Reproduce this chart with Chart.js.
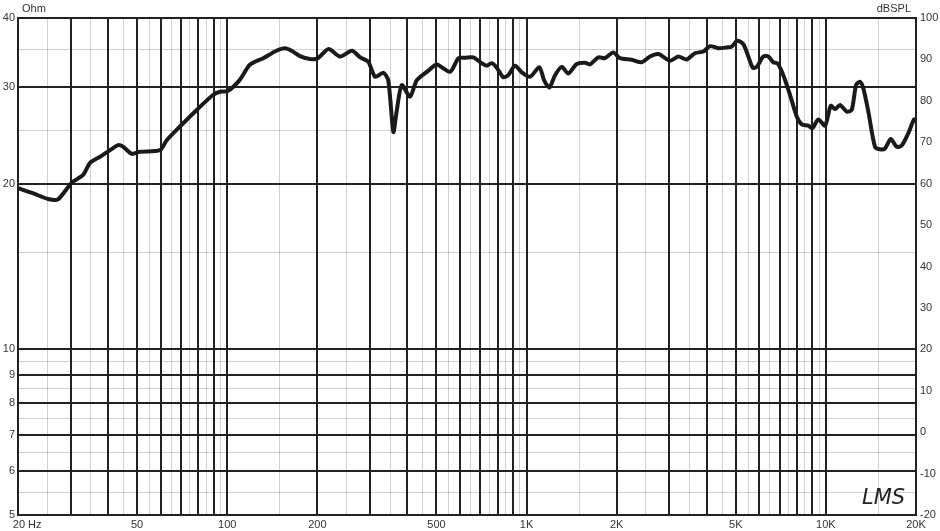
<!DOCTYPE html>
<html lang="en">
<head>
  <meta charset="UTF-8">
  <title>Frequency response</title>
  <script src="https://cdn.jsdelivr.net/npm/chart.js"></script>
  <style>
    html, body { margin: 0; padding: 0; background: #fff; }
    canvas { display: block; }
  </style>
</head>
<body>
  <canvas id="resp" width="940" height="531"></canvas>
  <script>
    // measured SPL curve (Hz / dB)
    const freqHz = [20, 22.4, 25.2, 27.2, 30.2, 33, 34.8, 37.6, 40.6, 43.2, 44.9, 48, 51.1, 59.6, 62.8, 69.5, 79.1, 89.6, 94.6, 100.6,
      110, 119, 132, 146, 156, 164, 175, 189, 201, 218, 238, 261, 278, 296, 312, 332, 345, 359, 368, 383,
      408, 430, 470, 501, 555, 592, 623, 664, 708, 736, 765, 795, 836, 869, 915, 963, 1027, 1103, 1144, 1191,
      1245, 1310, 1379, 1471, 1568, 1629, 1737, 1828, 1949, 2052, 2246, 2424, 2585, 2756, 3016, 3214, 3428, 3654, 3896, 4100,
      4373, 4665, 4847, 5059, 5298, 5506, 5696, 5875, 6180, 6422, 6674, 6883, 7208, 7590, 7992, 8305, 8736, 9010, 9436, 9934,
      10380, 10730, 11150, 11740, 12200, 12610, 13000, 13340, 13860, 14590, 15170, 15760, 16470, 17240, 17920, 18860, 19700, 20000];
    const splDb = [58.9, 57.7, 56.3, 56.2, 60.2, 62.1, 65.0, 66.5, 68.1, 69.3, 68.9, 67.2, 67.7, 68.1, 70.5, 73.8, 77.8, 81.4, 82.2, 82.4,
      85.0, 88.7, 90.3, 92.1, 92.7, 92.1, 90.8, 90.1, 90.3, 92.5, 90.7, 92.1, 90.5, 89.4, 85.8, 86.8, 85.0, 72.5, 77.4, 83.8,
      81.0, 85.0, 87.3, 88.8, 87.0, 90.3, 90.4, 90.5, 89.1, 88.5, 89.1, 88.0, 85.7, 86.2, 88.5, 86.9, 85.8, 88.1, 85.0, 83.2,
      86.2, 88.2, 86.6, 88.9, 89.2, 88.8, 90.5, 90.3, 91.7, 90.3, 89.9, 89.3, 90.7, 91.3, 89.7, 90.7, 90.0, 91.5, 91.9, 93.2,
      92.7, 92.9, 93.1, 94.5, 93.7, 90.7, 88.0, 88.2, 90.7, 90.7, 89.3, 89.1, 86.2, 81.4, 76.2, 74.3, 74.0, 73.4, 75.5, 74.0,
      78.8, 78.0, 79.0, 77.4, 77.8, 83.8, 84.6, 83.0, 77.4, 68.9, 68.3, 68.5, 70.8, 68.9, 69.2, 72.2, 75.5, 75.0];

    // frequency grid
    const xMajor = [20, 30, 40, 50, 60, 70, 80, 90, 100, 200, 300, 400, 500, 600, 700, 800, 900, 1000,
      2000, 3000, 4000, 5000, 6000, 7000, 8000, 9000, 10000, 20000];
    const xMinor = [25, 35, 45, 55, 65, 75, 85, 95, 150, 250, 350, 450, 550, 650, 750, 850, 950,
      1500, 2500, 3500, 4500, 5500, 6500, 7500, 8500, 9500, 15000];
    const xLabelVals = [20, 50, 100, 200, 500, 1000, 2000, 5000, 10000, 20000];
    const xLabelText = ['      20 Hz', '50', '100', '200', '500', '1K', '2K', '5K', '10K', '20K'];

    // impedance grid (left, Ohm)
    const ohmMajor = [5, 6, 7, 8, 9, 10, 20, 30, 40];
    const ohmMinor = [5.5, 6.5, 7.5, 8.5, 9.5, 15, 25, 35];

    // SPL axis (right)
    const dbMin = -20, dbMax = 100, dbStep = 10;

    const DARK = '#222';
    const LIGHT = 'rgba(0,0,0,0.18)';
    const FONT = { family: '"Liberation Sans", Arial, sans-serif', size: 11 };
    const TXT = '#333';

    const near = (a, b) => Math.abs(a - b) < 1e-6 * Math.max(1, b);
    const isIn = (arr, v) => arr.some(a => near(v, a));
    const noPad = s => { s.paddingLeft = 0; s.paddingRight = 0; s.paddingTop = 0; s.paddingBottom = 0; };

    const cornerText = {
      id: 'cornerText',
      afterDraw(chart) {
        const c = chart.ctx;
        c.save();
        c.fillStyle = TXT;
        c.font = '11px "Liberation Sans", Arial, sans-serif';
        c.textBaseline = 'alphabetic';
        c.textAlign = 'left';
        c.fillText('Ohm', 22, 12);
        c.textAlign = 'right';
        c.fillText('dBSPL', 911, 12);
        c.fillStyle = '#222';
        c.font = 'italic 200 21px "DejaVu Sans", sans-serif';
        c.textAlign = 'left';
        c.fillText('LMS', 862, 504);
        c.restore();
      }
    };

    new Chart(document.getElementById('resp'), {
      type: 'line',
      data: {
        datasets: [{
          data: freqHz.map((f, i) => ({ x: f, y: splDb[i] })),
          xAxisID: 'x',
          yAxisID: 'y2',
          borderColor: '#1a1a1a',
          borderWidth: 4,
          pointRadius: 0,
          tension: 0.25,
          fill: false
        }]
      },
      options: {
        responsive: false,
        animation: false,
        layout: { padding: { top: 18, left: 0, right: 0, bottom: 0 } },
        plugins: { legend: { display: false }, tooltip: { enabled: false } },
        scales: {
          x: {
            type: 'logarithmic',
            position: 'bottom',
            min: 20,
            max: 20000,
            afterBuildTicks: s => { s.ticks = xMajor.concat(xMinor).sort((a, b) => a - b).map(v => ({ value: v })); },
            afterFit: s => { s.height = 16; noPad(s); },
            grid: {
              drawTicks: false,
              color: c => isIn(xMajor, c.tick.value) ? DARK : LIGHT,
              lineWidth: c => isIn(xMajor, c.tick.value) ? 2 : 1
            },
            border: { display: true, color: DARK, width: 2 },
            ticks: {
              autoSkip: false,
              maxRotation: 0,
              padding: 3,
              font: FONT,
              color: TXT,
              callback: v => {
                const k = xLabelVals.findIndex(a => near(v, a));
                return k >= 0 ? xLabelText[k] : '';
              }
            }
          },
          y: {
            type: 'logarithmic',
            position: 'left',
            min: 5,
            max: 40,
            afterBuildTicks: s => { s.ticks = ohmMajor.concat(ohmMinor).sort((a, b) => a - b).map(v => ({ value: v })); },
            afterFit: s => { s.width = 18; noPad(s); },
            grid: {
              drawTicks: false,
              color: c => isIn(ohmMajor, c.tick.value) ? DARK : LIGHT,
              lineWidth: c => isIn(ohmMajor, c.tick.value) ? 2 : 1
            },
            border: { display: true, color: DARK, width: 2 },
            ticks: {
              autoSkip: false,
              padding: 3,
              font: FONT,
              color: TXT,
              callback: v => isIn(ohmMajor, v) ? String(v) : ''
            }
          },
          y2: {
            type: 'linear',
            position: 'right',
            min: dbMin,
            max: dbMax,
            afterFit: s => { s.width = 24; noPad(s); },
            grid: { display: false, drawTicks: false },
            border: { display: true, color: DARK, width: 2 },
            ticks: { stepSize: dbStep, padding: 4, font: FONT, color: TXT }
          }
        }
      },
      plugins: [cornerText]
    });
  </script>
</body>
</html>
